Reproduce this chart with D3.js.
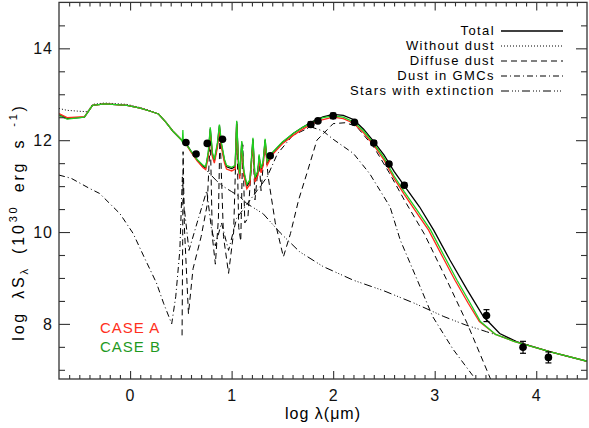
<!DOCTYPE html>
<html>
<head>
<meta charset="utf-8">
<script src="https://cdn.jsdelivr.net/npm/d3@7"></script>
<style>
  body { margin: 0; background: #fff; }
  svg { display: block; font-family: "Liberation Sans", Arial, sans-serif; }
  .tick text { font-size: 16px; fill: #111; letter-spacing: 1px; }
  .tick line { stroke: #333; stroke-width: 1.1; }
</style>
</head>
<body>
<svg id="sed" width="589" height="428"></svg>
<script>
// ------------------------------------------------------
// DATA (log lambda [um], log lambda*S_lambda)
// ------------------------------------------------------

var xTickValues = [0, 1, 2, 3, 4];
var yTickValues = [8, 10, 12, 14];

var legendNames = ["Total", "Without dust", "Diffuse dust", "Dust in GMCs", "Stars with extinction"];
var caseNames = ["CASE A", "CASE B"];

var totalSed = [[-0.70,12.55],[-0.62,12.47],[-0.45,12.50],[-0.37,12.76],[-0.25,12.79],[-0.03,12.76],[0.10,12.70],[0.20,12.63],[0.28,12.57],[0.35,12.40],[0.42,12.20],[0.50,12.02],[0.55,11.93],[0.60,11.76],[0.66,11.57],[0.72,11.43],[0.745,11.40],[0.77,11.70],[0.79,12.25],[0.81,11.70],[0.83,11.55],[0.86,11.90],[0.88,12.32],[0.90,11.90],[0.93,11.55],[0.95,11.42],[1.00,11.38],[1.035,11.42],[1.05,12.40],[1.07,11.40],[1.08,11.22],[1.10,11.95],[1.12,11.30],[1.15,11.00],[1.18,11.10],[1.21,12.02],[1.23,11.15],[1.26,11.30],[1.27,11.65],[1.29,11.35],[1.31,11.50],[1.33,12.00],[1.35,11.50],[1.40,11.72],[1.50,11.95],[1.61,12.15],[1.70,12.28],[1.80,12.41],[1.90,12.51],[2.00,12.56],[2.10,12.54],[2.20,12.45],[2.30,12.24],[2.40,11.97],[2.50,11.68],[2.60,11.32],[2.70,11.01],[2.85,10.55],[2.99,10.04],[3.15,9.39],[3.32,8.74],[3.48,8.16],[3.64,7.79],[3.81,7.61],[4.14,7.39],[4.51,7.18]];

var caseASed = [[-0.70,12.58],[-0.62,12.49],[-0.45,12.51],[-0.37,12.76],[-0.25,12.79],[-0.03,12.76],[0.10,12.70],[0.20,12.63],[0.28,12.57],[0.35,12.40],[0.42,12.20],[0.50,12.02],[0.55,11.92],[0.60,11.74],[0.66,11.55],[0.72,11.40],[0.745,11.36],[0.77,11.64],[0.79,12.18],[0.81,11.64],[0.83,11.50],[0.86,11.84],[0.88,12.25],[0.90,11.84],[0.93,11.50],[0.95,11.37],[1.00,11.33],[1.035,11.37],[1.05,12.33],[1.07,11.34],[1.08,11.16],[1.10,11.88],[1.12,11.24],[1.15,10.94],[1.18,11.04],[1.21,11.95],[1.23,11.09],[1.26,11.24],[1.27,11.59],[1.29,11.29],[1.31,11.44],[1.33,11.94],[1.35,11.45],[1.40,11.68],[1.50,11.92],[1.61,12.11],[1.70,12.24],[1.80,12.36],[1.90,12.45],[2.00,12.50],[2.10,12.47],[2.20,12.37],[2.30,12.16],[2.40,11.89],[2.50,11.57],[2.60,11.17],[2.70,10.82],[2.85,10.33],[2.94,10.04],[3.08,9.45],[3.20,8.95],[3.33,8.45],[3.44,8.05],[3.60,7.77],[3.78,7.62],[4.14,7.39],[4.51,7.18]];

var caseBSed = [[-0.70,12.54],[-0.62,12.46],[-0.45,12.50],[-0.37,12.76],[-0.25,12.79],[-0.03,12.76],[0.10,12.70],[0.20,12.63],[0.28,12.57],[0.35,12.40],[0.42,12.20],[0.50,12.02],[0.515,11.96],[0.52,12.22],[0.525,11.95],[0.55,11.92],[0.60,11.76],[0.66,11.58],[0.72,11.45],[0.745,11.42],[0.77,11.74],[0.79,12.28],[0.81,11.74],[0.83,11.58],[0.86,11.94],[0.88,12.34],[0.90,11.94],[0.93,11.58],[0.95,11.45],[1.00,11.41],[1.035,11.45],[1.05,12.42],[1.07,11.44],[1.08,11.26],[1.10,11.98],[1.12,11.34],[1.15,11.04],[1.18,11.14],[1.21,12.05],[1.23,11.19],[1.26,11.34],[1.27,11.69],[1.29,11.39],[1.31,11.54],[1.33,12.03],[1.35,11.54],[1.40,11.73],[1.50,11.96],[1.61,12.15],[1.70,12.28],[1.80,12.40],[1.90,12.49],[2.00,12.53],[2.10,12.50],[2.20,12.40],[2.30,12.20],[2.40,11.93],[2.50,11.62],[2.60,11.22],[2.70,10.88],[2.85,10.40],[2.96,10.04],[3.10,9.45],[3.22,8.95],[3.35,8.45],[3.45,8.05],[3.60,7.77],[3.78,7.62],[4.14,7.39],[4.51,7.18]];

var noDustSed = [[-0.70,12.69],[-0.62,12.65],[-0.50,12.63],[-0.42,12.62],[-0.37,12.78],[-0.25,12.81],[-0.03,12.78],[0.10,12.71],[0.20,12.64],[0.28,12.57],[0.35,12.40],[0.42,12.20]];

var diffuseSed = [[0.512,7.75],[0.518,9.8],[0.522,11.75],[0.535,10.1],[0.575,8.22],[0.62,9.2],[0.70,9.9],[0.76,10.6],[0.79,12.1],[0.81,9.9],[0.84,9.3],[0.87,10.3],[0.885,12.2],[0.92,9.9],[0.97,9.1],[1.02,10.0],[1.05,12.35],[1.07,10.1],[1.09,9.8],[1.11,11.9],[1.13,10.2],[1.16,10.3],[1.21,11.95],[1.23,10.7],[1.27,11.6],[1.29,10.9],[1.33,11.95],[1.36,11.2],[1.43,10.2],[1.51,9.46],[1.58,9.97],[1.66,10.7],[1.74,11.27],[1.84,12.0],[2.00,12.36],[2.12,12.38],[2.23,12.30],[2.40,11.85],[2.55,11.30],[2.70,10.70],[2.90,9.95],[3.12,8.95],[3.32,8.01],[3.55,6.8]];

var gmcSed = [[-0.70,11.24],[-0.58,11.17],[-0.40,10.95],[-0.30,10.84],[-0.10,10.40],[0.03,9.97],[0.15,9.40],[0.26,8.89],[0.33,8.45],[0.41,8.00],[0.45,8.60],[0.49,9.60],[0.515,11.20],[0.53,10.60],[0.58,9.60],[0.66,10.20],[0.755,10.90],[0.80,10.10],[0.84,9.70],[0.90,10.20],[0.97,9.60],[1.05,10.30],[1.15,10.60],[1.25,10.90],[1.35,11.20],[1.45,11.70],[1.60,12.10],[1.78,12.29],[1.90,12.20],[2.00,12.02],[2.20,11.71],[2.36,11.27],[2.46,10.91],[2.56,10.55],[2.66,9.83],[2.82,9.00],[2.98,8.16],[3.18,7.45],[3.40,6.8]];

var starsSed = [[0.55,11.93],[0.62,11.68],[0.70,11.45],[0.75,11.35],[0.85,11.12],[0.92,10.99],[1.00,10.88],[1.08,10.77],[1.15,10.62],[1.31,10.40],[1.48,9.98],[1.67,9.57],[1.90,9.25],[2.20,8.95],[2.50,8.72],[2.80,8.45],[3.09,8.16],[3.30,7.98],[3.51,7.83],[3.80,7.62],[4.14,7.39],[4.51,7.18]];

var obsLogLam = [0.55, 0.65, 0.76, 0.91, 1.38, 1.78, 1.85, 2.00, 2.21, 2.40, 2.55, 2.70, 3.51, 3.87, 4.12];
var obsLogS   = [11.95, 11.70, 11.93, 12.02, 11.66, 12.34, 12.42, 12.53, 12.39, 11.94, 11.48, 11.02, 8.18, 7.49, 7.27];
var obsErr    = [0, 0, 0, 0, 0, 0.06, 0.03, 0.06, 0.03, 0.05, 0.05, 0.05, 0.13, 0.13, 0.12];

// ------------------------------------------------------
// SCALES
// ------------------------------------------------------

var svg = d3.select("#sed");
var x = d3.scaleLinear().domain([-0.7, 4.5]).range([59, 587]);
var y = d3.scaleLinear().domain([6.8, 15]).range([379, 2.4]);

var line = d3.line()
    .x(function (d) { return x(d[0]); })
    .y(function (d) { return y(d[1]); });

var styles = {
    total:   {color: "#000", dash: null, width: 1.3},
    nodust:  {color: "#000", dash: "1,2", width: 1},
    diffuse: {color: "#000", dash: "6,4", width: 1},
    gmc:     {color: "#000", dash: "6,3,1,3", width: 1},
    stars:   {color: "#000", dash: "8,3,1,2,1,2,1,3", width: 1}
};

svg.append("clipPath").attr("id", "plotClip")
  .append("rect")
    .attr("x", x(-0.7)).attr("y", y(15))
    .attr("width", x(4.5) - x(-0.7)).attr("height", y(6.8) - y(15));

// ------------------------------------------------------
// CURVES
// ------------------------------------------------------

var plot = svg.append("g").attr("clip-path", "url(#plotClip)");

function drawCurve(data, st) {
    plot.append("path")
        .datum(data)
        .attr("d", line)
        .attr("fill", "none")
        .attr("stroke", st.color)
        .attr("stroke-width", st.width)
        .attr("stroke-dasharray", st.dash);
}

drawCurve(starsSed, styles.stars);
drawCurve(gmcSed, styles.gmc);
drawCurve(diffuseSed, styles.diffuse);
drawCurve(noDustSed, styles.nodust);
drawCurve(totalSed, styles.total);
drawCurve(caseASed, {color: "#ff2a1a", dash: null, width: 1.3});
drawCurve(caseBSed, {color: "#1fd01f", dash: null, width: 1.3});

// observed points with error bars
obsLogLam.forEach(function (lx, i) {
    var cx = x(lx), cy = y(obsLogS[i]);
    if (obsErr[i] > 0) {
        var y0 = y(obsLogS[i] - obsErr[i]), y1 = y(obsLogS[i] + obsErr[i]);
        plot.append("line").attr("x1", cx).attr("x2", cx).attr("y1", y0).attr("y2", y1)
            .attr("stroke", "#000").attr("stroke-width", 1.2);
        [y0, y1].forEach(function (yy) {
            plot.append("line").attr("x1", cx - 3).attr("x2", cx + 3).attr("y1", yy).attr("y2", yy)
                .attr("stroke", "#000").attr("stroke-width", 1.2);
        });
    }
    plot.append("circle").attr("cx", cx).attr("cy", cy).attr("r", 3.8).attr("fill", "#000");
});

// ------------------------------------------------------
// AXES (ticks inside, box all round)
// ------------------------------------------------------

var xMinor = d3.range(-6, 45).map(function (i) { return i / 10; })
    .filter(function (v) { return Math.abs(v - Math.round(v)) > 1e-6; });
var yMinor = d3.range(14, 30).map(function (i) { return i / 2; })
    .filter(function (v) { return v % 2 !== 0; });

function noDomain(g) { g.select(".domain").remove(); }

svg.append("g").attr("transform", "translate(0," + y(6.8) + ")")
    .call(d3.axisBottom(x).tickValues(xMinor).tickSize(-4).tickFormat("")).call(noDomain);
svg.append("g").attr("transform", "translate(0," + y(6.8) + ")")
    .call(d3.axisBottom(x).tickValues(xTickValues).tickSize(-8).tickPadding(11).tickFormat(d3.format("d"))).call(noDomain);
svg.append("g").attr("transform", "translate(0," + y(15) + ")")
    .call(d3.axisTop(x).tickValues(xMinor).tickSize(-4).tickFormat("")).call(noDomain);
svg.append("g").attr("transform", "translate(0," + y(15) + ")")
    .call(d3.axisTop(x).tickValues(xTickValues).tickSize(-8).tickFormat("")).call(noDomain);

svg.append("g").attr("transform", "translate(" + x(-0.7) + ",0)")
    .call(d3.axisLeft(y).tickValues(yMinor).tickSize(-6).tickFormat("")).call(noDomain);
svg.append("g").attr("transform", "translate(" + x(-0.7) + ",0)")
    .call(d3.axisLeft(y).tickValues(yTickValues).tickSize(-11).tickPadding(6).tickFormat(d3.format("d"))).call(noDomain);
svg.append("g").attr("transform", "translate(" + x(4.5) + ",0)")
    .call(d3.axisRight(y).tickValues(yMinor).tickSize(-6).tickFormat("")).call(noDomain);
svg.append("g").attr("transform", "translate(" + x(4.5) + ",0)")
    .call(d3.axisRight(y).tickValues(yTickValues).tickSize(-11).tickFormat("")).call(noDomain);

svg.selectAll(".tick text").attr("font-family", null).attr("font-size", null);

svg.append("rect")
    .attr("x", x(-0.7)).attr("y", y(15))
    .attr("width", x(4.5) - x(-0.7)).attr("height", y(6.8) - y(15))
    .attr("fill", "none").attr("stroke", "#333").attr("stroke-width", 1.3);

// axis titles
svg.append("text")
    .attr("x", (x(-0.7) + x(4.5)) / 2).attr("y", 419)
    .attr("text-anchor", "middle")
    .style("font-size", "16px").style("letter-spacing", "1px")
    .text("log \u03bb(\u03bcm)");

var yTitle = svg.append("text")
    .attr("transform", "translate(24,222) rotate(-90)")
    .attr("text-anchor", "middle")
    .style("font-size", "16px").style("letter-spacing", "2.8px").style("word-spacing", "5px");
yTitle.append("tspan").text("log \u03bbS");
yTitle.append("tspan").attr("dy", 4).style("font-size", "11px").text("\u03bb");
yTitle.append("tspan").attr("dy", -4).text(" (10");
yTitle.append("tspan").attr("dy", -7).style("font-size", "11px").text("30");
yTitle.append("tspan").attr("dy", 7).text(" erg s");
yTitle.append("tspan").attr("dy", -7).style("font-size", "11px").text(" -1");
yTitle.append("tspan").attr("dy", 7).text(")");

// ------------------------------------------------------
// LEGEND
// ------------------------------------------------------

var legendKeys = ["total", "nodust", "diffuse", "gmc", "stars"];
legendNames.forEach(function (name, i) {
    var by = 35 + i * 15;
    svg.append("text")
        .attr("x", 495).attr("y", by)
        .attr("text-anchor", "end")
        .style("font-size", "13px").style("letter-spacing", "1.4px")
        .text(name);
    var st = styles[legendKeys[i]];
    svg.append("line")
        .attr("x1", 501).attr("x2", 563).attr("y1", by - 4).attr("y2", by - 4)
        .attr("stroke", st.color).attr("stroke-width", st.width)
        .attr("stroke-dasharray", st.dash);
});

var caseColors = ["#ff3020", "#1f9a1f"];
caseNames.forEach(function (name, i) {
    svg.append("text")
        .attr("x", 100).attr("y", 333 + i * 19)
        .style("font-size", "15px").style("letter-spacing", "1px")
        .attr("fill", caseColors[i])
        .text(name);
});
</script>
</body>
</html>
